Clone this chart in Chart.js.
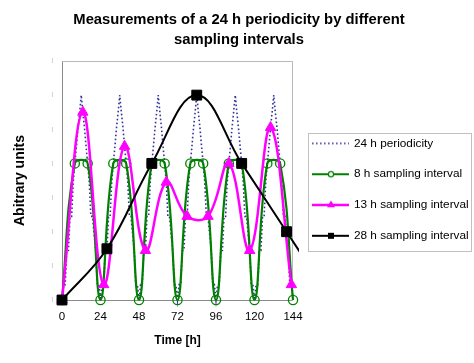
<!DOCTYPE html>
<html><head><meta charset="utf-8">
<script src="https://cdn.jsdelivr.net/npm/chart.js@4/dist/chart.umd.min.js"></script>
<style>html,body{margin:0;padding:0;background:#fff}canvas{display:block}</style>
</head><body>
<canvas id="c" width="474" height="363"></canvas>
<script>
// ---- data ----
const titleLines = ['Measurements of a 24 h periodicity by different', 'sampling intervals'];
const seriesNames = ['24 h periodicity', '8 h sampling interval', '13 h sampling interval', '28 h sampling interval'];
const xTicks = [0, 24, 48, 72, 96, 120, 144];
const yTicks = [0, 1, 2, 3, 4, 5, 6, 7];

const hours = [
  0,1,2,3,4,5,6,7,8,9,10,11,12,13,14,15,16,17,18,19,20,21,22,23,
  24,25,26,27,28,29,30,31,32,33,34,35,36,37,38,39,40,41,42,43,44,45,46,47,
  48,49,50,51,52,53,54,55,56,57,58,59,60,61,62,63,64,65,66,67,68,69,70,71,
  72,73,74,75,76,77,78,79,80,81,82,83,84,85,86,87,88,89,90,91,92,93,94,95,
  96,97,98,99,100,101,102,103,104,105,106,107,108,109,110,111,112,113,114,115,116,117,118,119,
  120,121,122,123,124,125,126,127,128,129,130,131,132,133,134,135,136,137,138,139,140,141,142,143,
  144];
const periodicity = [
  0,0.45,0.45,1.45,1.45,2.45,2.45,3.45,4,4.5,5.05,5.5,6,5.5,5.05,4.5,4,3.45,2.45,2.45,1.95,1.45,0.45,0.45,
  0,0.45,0.45,1.45,1.45,2.45,2.45,3.45,4,4.5,5.05,5.5,6,5.5,5.05,4.5,4,3.45,2.45,2.45,1.95,1.45,0.45,0.45,
  0,0.45,0.45,1.45,1.45,2.45,2.45,3.45,4,4.5,5.05,5.5,6,5.5,5.05,4.5,4,3.45,2.45,2.45,1.95,1.45,0.45,0.45,
  0,0.45,0.45,1.45,1.45,2.45,2.45,3.45,4,4.5,5.05,5.5,6,5.5,5.05,4.5,4,3.45,2.45,2.45,1.95,1.45,0.45,0.45,
  0,0.45,0.45,1.45,1.45,2.45,2.45,3.45,4,4.5,5.05,5.5,6,5.5,5.05,4.5,4,3.45,2.45,2.45,1.95,1.45,0.45,0.45,
  0,0.45,0.45,1.45,1.45,2.45,2.45,3.45,4,4.5,5.05,5.5,6,5.5,5.05,4.5,4,3.45,2.45,2.45,1.95,1.45,0.45,0.45,
  0];

const t8  = [0,8,16,24,32,40,48,56,64,72,80,88,96,104,112,120,128,136,144];
const v8  = [0,4,4,0,4,4,0,4,4,0,4,4,0,4,4,0,4,4,0];
const t13 = [0,13,26,39,52,65,78,91,104,117,130,143];
const v13 = [0,5.5,0.45,4.5,1.45,3.45,2.45,2.45,4,1.45,5.05,0.45];
const t28 = [0,28,56,84,112,140,168];
const v28 = [0,1.5,4,6,4,2,0];

// ---- helpers ----
const FONT = 'Liberation Sans, Arial, Helvetica, sans-serif';
Chart.defaults.font.family = FONT;
Chart.defaults.color = '#000';
const pts = (xs, ys) => xs.map((x, i) => ({x: x, y: ys[i]}));

function sample(color, width, dash, marker, r) {
  const c = document.createElement('canvas');
  c.width = 38; c.height = 14;
  const g = c.getContext('2d');
  g.strokeStyle = color; g.lineWidth = width; g.setLineDash(dash || []);
  g.beginPath(); g.moveTo(1, 7); g.lineTo(38, 7); g.stroke();
  g.setLineDash([]);
  const cx = 20, cy = 7;
  if (marker === 'circle') {
    g.fillStyle = '#fff'; g.lineWidth = 1.2;
    g.beginPath(); g.arc(cx, cy, r, 0, Math.PI * 2); g.fill(); g.stroke();
  } else if (marker === 'triangle') {
    g.fillStyle = color;
    g.beginPath(); g.moveTo(cx, cy - r); g.lineTo(cx + r * 0.87, cy + r * 0.5); g.lineTo(cx - r * 0.87, cy + r * 0.5); g.closePath(); g.fill();
  } else if (marker === 'rect') {
    g.fillStyle = color; g.fillRect(cx - r, cy - r, 2 * r, 2 * r);
  }
  return c;
}
const samples = [
  sample('#333399', 1.4, [1.6, 2.4], null, 0),
  sample('#008000', 2, null, 'circle', 2.6),
  sample('#ff00ff', 2.5, null, 'triangle', 4.6),
  sample('#000000', 2, null, 'rect', 3)
];

const framePlugin = {
  id: 'frame',
  afterLayout(chart) {
    const L = chart.legend;
    if (L) { const h = L.bottom - L.top; L.top = 118.5; L.bottom = L.top + h; }
  },
  beforeDatasetsDraw(chart) {
    const {ctx, chartArea: a} = chart;
    const l = Math.round(a.left) + 0.5, t = Math.round(a.top) + 0.5;
    const r = Math.round(a.right) - 0.5, b = Math.round(a.bottom) + 0.5;
    ctx.save();
    ctx.lineWidth = 1;
    ctx.strokeStyle = '#b8b8b8';
    ctx.beginPath(); ctx.moveTo(l, t); ctx.lineTo(r, t); ctx.lineTo(r, b); ctx.stroke();
    ctx.strokeStyle = '#8a8a8a';
    ctx.beginPath(); ctx.moveTo(l, t); ctx.lineTo(l, b); ctx.lineTo(r, b); ctx.stroke();
    ctx.restore();
  },
  afterDraw(chart) {
    const L = chart.legend;
    if (!L || !L.legendHitBoxes || !L.legendHitBoxes.length) return;
    const hb = L.legendHitBoxes;
    const last = hb[hb.length - 1];
    const left = Math.round(hb[0].left - 4) + 0.5;
    const top = Math.round(hb[0].top - 5) + 0.5;
    const bottom = Math.round(last.top + last.height + 9) + 0.5;
    const right = chart.width - 2.5;
    const ctx = chart.ctx;
    ctx.save();
    ctx.strokeStyle = '#c0c0c0'; ctx.lineWidth = 1;
    ctx.strokeRect(left, top, right - left, bottom - top);
    ctx.restore();
  }
};

new Chart(document.getElementById('c').getContext('2d'), {
  type: 'line',
  data: {
    datasets: [
      {label: seriesNames[0], data: pts(hours, periodicity), borderColor: '#333399', borderWidth: 1.6,
       borderDash: [1.6, 2.4], pointRadius: 0, tension: 0, order: 4, clip: false},
      {label: seriesNames[1], data: pts(t8, v8), borderColor: '#008000', borderWidth: 2.2,
       pointStyle: 'circle', pointRadius: 4.6, pointBorderWidth: 1.3, pointBackgroundColor: 'rgba(0,0,0,0)',
       pointBorderColor: '#008000', tension: 0.4, order: 3, clip: false},
      {label: seriesNames[2], data: pts(t13, v13), borderColor: '#ff00ff', borderWidth: 2.5,
       pointStyle: 'triangle', pointRadius: 6, pointBorderWidth: 1, pointBackgroundColor: '#ff00ff',
       pointBorderColor: '#ff00ff', tension: 0.4, order: 2, clip: false},
      {label: seriesNames[3], data: pts(t28, v28), borderColor: '#000000', borderWidth: 2,
       pointStyle: 'rect', pointRadius: 7, pointBorderWidth: 1, pointBackgroundColor: '#000000',
       pointBorderColor: '#000000', tension: 0.4, order: 1, clip: {left: false, top: false, right: 6, bottom: false}}
    ]
  },
  options: {
    responsive: false,
    animation: false,
    events: [],
    layout: {padding: {left: 4, right: 0, top: 0, bottom: 8}},
    scales: {
      x: {
        type: 'linear', min: 0, max: 144,
        afterBuildTicks: s => { s.ticks = xTicks.map(v => ({value: v})); },
        afterFit: s => { s.height = 55; },
        ticks: {font: {size: 11.5}, color: '#000', padding: 10, maxRotation: 0, autoSkip: false},
        grid: {display: false, drawTicks: false},
        border: {display: false},
        title: {display: true, text: 'Time [h]', color: '#000', font: {size: 12, weight: 'bold'}, padding: {top: 0, bottom: 7}}
      },
      y: {
        type: 'linear', min: 0, max: 7,
        afterBuildTicks: s => { s.ticks = yTicks.map(v => ({value: v})); },
        afterFit: s => { s.width = 58; },
        ticks: {callback: () => '|', font: {size: 5}, color: '#9a9a9a', padding: 9},
        grid: {display: false, drawTicks: false},
        border: {display: false},
        title: {display: true, text: 'Abitrary units', color: '#000', font: {size: 14, weight: 'bold'}, padding: {top: 8, bottom: 0}}
      }
    },
    plugins: {
      title: {display: true, text: titleLines, color: '#000',
              font: {size: 14.8, weight: 'bold', lineHeight: 1.35}, padding: {top: 10, bottom: 11}},
      tooltip: {enabled: false},
      legend: {
        position: 'right', align: 'start', maxWidth: 181,
        labels: {
          usePointStyle: true, pointStyleWidth: 36, padding: 19, color: '#000',
          font: {size: 11.8},
          generateLabels: chart => chart.data.datasets.map((ds, i) => ({
            text: ds.label, pointStyle: samples[i], datasetIndex: i, fontColor: '#000',
            hidden: false, lineWidth: 0, strokeStyle: 'rgba(0,0,0,0)', fillStyle: 'rgba(0,0,0,0)'
          }))
        }
      }
    }
  },
  plugins: [framePlugin]
});
</script>
</body></html>
